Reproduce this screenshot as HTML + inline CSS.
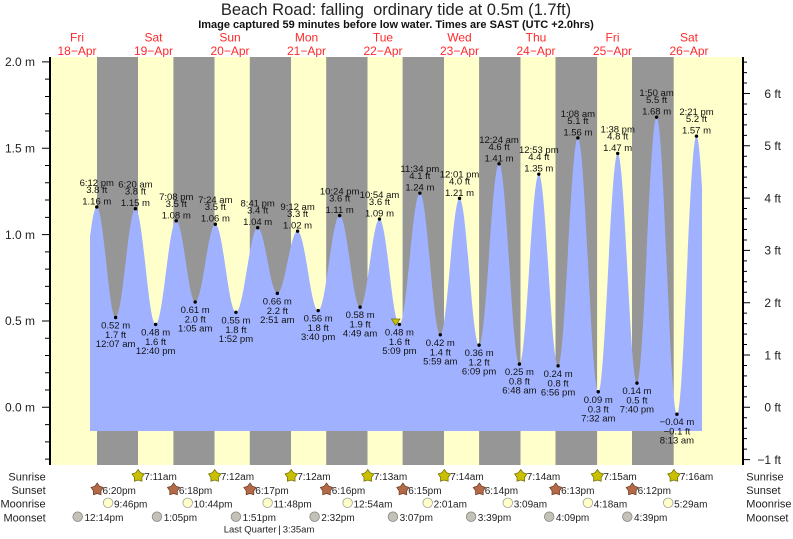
<!DOCTYPE html>
<html><head><meta charset="utf-8"><style>
html,body{margin:0;padding:0;background:#fff;overflow:hidden}
svg{display:block}
.tl{font-size:9.5px;fill:#111;text-anchor:middle}
.ev{font-size:10px;fill:#222}
.rl{font-size:11px;fill:#222}
.ax{font-size:12px;fill:#222}
.day{font-size:12px;fill:#ff2a2a;text-anchor:middle}
</style></head><body>
<svg width="793" height="539" viewBox="0 0 793 539" xmlns="http://www.w3.org/2000/svg" font-family="'Liberation Sans', Arial, sans-serif">
<defs><clipPath id="c"><rect x="90" y="50" width="612" height="381"/></clipPath></defs>
<rect x="0" y="0" width="793" height="539" fill="#fff"/>
<text x="396" y="15" text-anchor="middle" font-size="16.5" fill="#222">Beach Road: falling&#160; ordinary tide at 0.5m (1.7ft)</text>
<text x="396" y="28" text-anchor="middle" font-size="11" font-weight="bold" fill="#111">Image captured 59 minutes before low water. Times are SAST (UTC +2.0hrs)</text>

<text class="day" x="77" y="41.5">Fri</text><text class="day" x="77" y="55">18−Apr</text>
<text class="day" x="153.5" y="41.5">Sat</text><text class="day" x="153.5" y="55">19−Apr</text>
<text class="day" x="230" y="41.5">Sun</text><text class="day" x="230" y="55">20−Apr</text>
<text class="day" x="306.5" y="41.5">Mon</text><text class="day" x="306.5" y="55">21−Apr</text>
<text class="day" x="383" y="41.5">Tue</text><text class="day" x="383" y="55">22−Apr</text>
<text class="day" x="459.5" y="41.5">Wed</text><text class="day" x="459.5" y="55">23−Apr</text>
<text class="day" x="536" y="41.5">Thu</text><text class="day" x="536" y="55">24−Apr</text>
<text class="day" x="612.5" y="41.5">Fri</text><text class="day" x="612.5" y="55">25−Apr</text>
<text class="day" x="689" y="41.5">Sat</text><text class="day" x="689" y="55">26−Apr</text>

<rect x="49" y="57" width="695" height="408" fill="#ffffcc"/>
<g fill="#969696">
<rect x="97" y="57" width="41" height="408"/>
<rect x="173.4" y="57" width="41.1" height="408"/>
<rect x="249.8" y="57" width="41.2" height="408"/>
<rect x="326.2" y="57" width="41.3" height="408"/>
<rect x="402.6" y="57" width="41.4" height="408"/>
<rect x="479.1" y="57" width="41.4" height="408"/>
<rect x="555.5" y="57" width="41.6" height="408"/>
<rect x="632" y="57" width="41.7" height="408"/>
</g>

<path clip-path="url(#c)" fill="#a0b2ff" d="M77,431 L77,320.95
C84.18,320.95 89.58,206.97 96.76,206.97
C103.61,206.97 108.77,317.5 115.62,317.5
C122.82,317.5 128.24,208.69 135.44,208.69
C142.78,208.69 148.29,324.4 155.63,324.4
C163.12,324.4 168.75,220.78 176.24,220.78
C183.13,220.78 188.31,301.95 195.2,301.95
C202.52,301.95 208.02,224.24 215.34,224.24
C222.83,224.24 228.46,312.31 235.95,312.31
C243.85,312.31 249.78,227.69 257.68,227.69
C264.82,227.69 270.19,293.32 277.33,293.32
C284.69,293.32 290.22,231.15 297.58,231.15
C305.07,231.15 310.7,310.59 318.19,310.59
C325.99,310.59 331.85,215.6 339.65,215.6
C347.08,215.6 352.67,307.13 360.1,307.13
C367.15,307.13 372.44,219.06 379.49,219.06
C386.73,219.06 392.18,324.4 399.42,324.4
C406.85,324.4 412.44,193.15 419.87,193.15
C427.3,193.15 432.89,334.77 440.32,334.77
C447.31,334.77 452.56,198.33 459.55,198.33
C466.65,198.33 472,345.13 479.1,345.13
C486.34,345.13 491.79,163.79 499.03,163.79
C506.44,163.79 512.02,364.12 519.43,364.12
C526.48,364.12 531.77,174.15 538.82,174.15
C545.83,174.15 551.09,365.85 558.1,365.85
C565.28,365.85 570.68,137.89 577.86,137.89
C585.27,137.89 590.85,391.76 598.26,391.76
C605.33,391.76 610.64,153.43 617.71,153.43
C624.7,153.43 629.95,383.12 636.94,383.12
C644.08,383.12 649.45,117.16 656.59,117.16
C663.99,117.16 669.54,414.21 676.94,414.21
C684.04,414.21 689.39,136.16 696.49,136.16
C703.73,136.16 709.17,424.57 716.41,424.57
L716.41,431 Z"/>

<!-- axes -->
<rect x="49" y="57" width="2" height="408" fill="#000"/>
<rect x="742" y="57" width="2" height="408" fill="#000"/>
<path stroke="#000" stroke-width="1" fill="none" d="M42,61.9h7M42,148.25h7M42,234.6h7M42,320.95h7M42,407.3h7
M45,459.11h4M45,441.84h4M45,424.57h4M45,390.03h4M45,372.76h4M45,355.49h4M45,338.22h4M45,303.68h4M45,286.41h4M45,269.14h4M45,251.87h4M45,217.33h4M45,200.06h4M45,182.79h4M45,165.52h4M45,130.98h4M45,113.71h4M45,96.44h4M45,79.17h4
M744,459.6h6M744,407.3h6M744,355h6M744,302.7h6M744,250.4h6M744,198.1h6M744,145.8h6M744,93.5h6
M744,449.14h3M744,438.68h3M744,428.22h3M744,417.76h3M744,396.84h3M744,386.38h3M744,375.92h3M744,365.46h3M744,344.54h3M744,334.08h3M744,323.62h3M744,313.16h3M744,292.24h3M744,281.78h3M744,271.32h3M744,260.86h3M744,239.94h3M744,229.48h3M744,219.02h3M744,208.56h3M744,187.64h3M744,177.18h3M744,166.72h3M744,156.26h3M744,135.34h3M744,124.88h3M744,114.42h3M744,103.96h3M744,83.04h3M744,72.58h3M744,62.12h3"/>
<g class="ax" text-anchor="end">
<text x="35" y="66.2">2.0 m</text>
<text x="35" y="152.5">1.5 m</text>
<text x="35" y="238.9">1.0 m</text>
<text x="35" y="325.2">0.5 m</text>
<text x="35" y="411.6">0.0 m</text>
<text x="781" y="97.8">6 ft</text>
<text x="781" y="150.1">5 ft</text>
<text x="781" y="202.4">4 ft</text>
<text x="781" y="254.7">3 ft</text>
<text x="781" y="307">2 ft</text>
<text x="781" y="359.3">1 ft</text>
<text x="781" y="411.6">0 ft</text>
<text x="781" y="463.9">−1 ft</text>
</g>

<!-- current time marker -->
<polygon points="391.5,319 400,319 395.7,325.5" fill="#c8c000" stroke="#6e6a00" stroke-width="0.7"/>

<!-- dots -->
<g fill="#000">
<circle cx="96.76" cy="206.97" r="1.7"/><circle cx="115.62" cy="317.5" r="1.7"/><circle cx="135.44" cy="208.69" r="1.7"/><circle cx="155.63" cy="324.4" r="1.7"/>
<circle cx="176.24" cy="220.78" r="1.7"/><circle cx="195.2" cy="301.95" r="1.7"/><circle cx="215.34" cy="224.24" r="1.7"/><circle cx="235.95" cy="312.31" r="1.7"/>
<circle cx="257.68" cy="227.69" r="1.7"/><circle cx="277.33" cy="293.32" r="1.7"/><circle cx="297.58" cy="231.15" r="1.7"/><circle cx="318.19" cy="310.59" r="1.7"/>
<circle cx="339.65" cy="215.6" r="1.7"/><circle cx="360.1" cy="307.13" r="1.7"/><circle cx="379.49" cy="219.06" r="1.7"/><circle cx="399.42" cy="324.4" r="1.7"/>
<circle cx="419.87" cy="193.15" r="1.7"/><circle cx="440.32" cy="334.77" r="1.7"/><circle cx="459.55" cy="198.33" r="1.7"/><circle cx="479.1" cy="345.13" r="1.7"/>
<circle cx="499.03" cy="163.79" r="1.7"/><circle cx="519.43" cy="364.12" r="1.7"/><circle cx="538.82" cy="174.15" r="1.7"/><circle cx="558.1" cy="365.85" r="1.7"/>
<circle cx="577.86" cy="137.89" r="1.7"/><circle cx="598.26" cy="391.76" r="1.7"/><circle cx="617.71" cy="153.43" r="1.7"/><circle cx="636.94" cy="383.12" r="1.7"/>
<circle cx="656.59" cy="117.16" r="1.7"/><circle cx="676.94" cy="414.21" r="1.7"/><circle cx="696.49" cy="136.16" r="1.7"/>
</g>

<!-- tide labels: highs -->
<g class="tl">
<text x="96.76" y="185.97">6:12 pm</text><text x="96.76" y="192.97">3.8 ft</text><text x="96.76" y="204.47">1.16 m</text>
<text x="135.44" y="187.69">6:20 am</text><text x="135.44" y="194.69">3.8 ft</text><text x="135.44" y="206.19">1.15 m</text>
<text x="176.24" y="199.78">7:08 pm</text><text x="176.24" y="206.78">3.5 ft</text><text x="176.24" y="218.28">1.08 m</text>
<text x="215.34" y="203.24">7:24 am</text><text x="215.34" y="210.24">3.5 ft</text><text x="215.34" y="221.74">1.06 m</text>
<text x="257.68" y="206.69">8:41 pm</text><text x="257.68" y="213.69">3.4 ft</text><text x="257.68" y="225.19">1.04 m</text>
<text x="297.58" y="210.15">9:12 am</text><text x="297.58" y="217.15">3.3 ft</text><text x="297.58" y="228.65">1.02 m</text>
<text x="339.65" y="194.6">10:24 pm</text><text x="339.65" y="201.6">3.6 ft</text><text x="339.65" y="213.1">1.11 m</text>
<text x="379.49" y="198.06">10:54 am</text><text x="379.49" y="205.06">3.6 ft</text><text x="379.49" y="216.56">1.09 m</text>
<text x="419.87" y="172.15">11:34 pm</text><text x="419.87" y="179.15">4.1 ft</text><text x="419.87" y="190.65">1.24 m</text>
<text x="459.55" y="177.33">12:01 pm</text><text x="459.55" y="184.33">4.0 ft</text><text x="459.55" y="195.83">1.21 m</text>
<text x="499.03" y="142.79">12:24 am</text><text x="499.03" y="149.79">4.6 ft</text><text x="499.03" y="161.29">1.41 m</text>
<text x="538.82" y="153.15">12:53 pm</text><text x="538.82" y="160.15">4.4 ft</text><text x="538.82" y="171.65">1.35 m</text>
<text x="577.86" y="116.89">1:08 am</text><text x="577.86" y="123.89">5.1 ft</text><text x="577.86" y="135.39">1.56 m</text>
<text x="617.71" y="132.43">1:38 pm</text><text x="617.71" y="139.43">4.8 ft</text><text x="617.71" y="150.93">1.47 m</text>
<text x="656.59" y="96.16">1:50 am</text><text x="656.59" y="103.16">5.5 ft</text><text x="656.59" y="114.66">1.68 m</text>
<text x="696.49" y="115.16">2:21 pm</text><text x="696.49" y="122.16">5.2 ft</text><text x="696.49" y="133.66">1.57 m</text>
</g>
<!-- tide labels: lows -->
<g class="tl">
<text x="115.62" y="328.5">0.52 m</text><text x="115.62" y="338">1.7 ft</text><text x="115.62" y="347">12:07 am</text>
<text x="155.63" y="335.4">0.48 m</text><text x="155.63" y="344.9">1.6 ft</text><text x="155.63" y="353.9">12:40 pm</text>
<text x="195.2" y="312.95">0.61 m</text><text x="195.2" y="322.45">2.0 ft</text><text x="195.2" y="331.45">1:05 am</text>
<text x="235.95" y="323.31">0.55 m</text><text x="235.95" y="332.81">1.8 ft</text><text x="235.95" y="341.81">1:52 pm</text>
<text x="277.33" y="304.32">0.66 m</text><text x="277.33" y="313.82">2.2 ft</text><text x="277.33" y="322.82">2:51 am</text>
<text x="318.19" y="321.59">0.56 m</text><text x="318.19" y="331.09">1.8 ft</text><text x="318.19" y="340.09">3:40 pm</text>
<text x="360.1" y="318.13">0.58 m</text><text x="360.1" y="327.63">1.9 ft</text><text x="360.1" y="336.63">4:49 am</text>
<text x="399.42" y="335.4">0.48 m</text><text x="399.42" y="344.9">1.6 ft</text><text x="399.42" y="353.9">5:09 pm</text>
<text x="440.32" y="345.77">0.42 m</text><text x="440.32" y="355.27">1.4 ft</text><text x="440.32" y="364.27">5:59 am</text>
<text x="479.1" y="356.13">0.36 m</text><text x="479.1" y="365.63">1.2 ft</text><text x="479.1" y="374.63">6:09 pm</text>
<text x="519.43" y="375.12">0.25 m</text><text x="519.43" y="384.62">0.8 ft</text><text x="519.43" y="393.62">6:48 am</text>
<text x="558.1" y="376.85">0.24 m</text><text x="558.1" y="386.35">0.8 ft</text><text x="558.1" y="395.35">6:56 pm</text>
<text x="598.26" y="402.76">0.09 m</text><text x="598.26" y="412.26">0.3 ft</text><text x="598.26" y="421.26">7:32 am</text>
<text x="636.94" y="394.12">0.14 m</text><text x="636.94" y="403.62">0.5 ft</text><text x="636.94" y="412.62">7:40 pm</text>
<text x="676.94" y="425.21">−0.04 m</text><text x="676.94" y="434.71">−0.1 ft</text><text x="676.94" y="443.71">8:13 am</text>
</g>

<!-- row labels -->
<g class="rl" text-anchor="end">
<text x="45.7" y="480.3">Sunrise</text>
<text x="45.7" y="494">Sunset</text>
<text x="45.7" y="507.7">Moonrise</text>
<text x="45.7" y="521.3">Moonset</text>
</g>
<g class="rl">
<text x="746.3" y="480.3">Sunrise</text>
<text x="746.3" y="494">Sunset</text>
<text x="746.3" y="507.7">Moonrise</text>
<text x="746.3" y="521.3">Moonset</text>
</g>

<!-- sunrise stars -->
<g fill="#c8c000" stroke="#6e6a00" stroke-width="0.7">
<polygon transform="translate(138.15,476)" points="0,-6.5 2.35,-3.24 6.18,-2.01 3.8,1.24 3.82,5.26 0,4 -3.82,5.26 -3.8,1.24 -6.18,-2.01 -2.35,-3.24"/>
<polygon transform="translate(214.7,476)" points="0,-6.5 2.35,-3.24 6.18,-2.01 3.8,1.24 3.82,5.26 0,4 -3.82,5.26 -3.8,1.24 -6.18,-2.01 -2.35,-3.24"/>
<polygon transform="translate(291.2,476)" points="0,-6.5 2.35,-3.24 6.18,-2.01 3.8,1.24 3.82,5.26 0,4 -3.82,5.26 -3.8,1.24 -6.18,-2.01 -2.35,-3.24"/>
<polygon transform="translate(367.75,476)" points="0,-6.5 2.35,-3.24 6.18,-2.01 3.8,1.24 3.82,5.26 0,4 -3.82,5.26 -3.8,1.24 -6.18,-2.01 -2.35,-3.24"/>
<polygon transform="translate(444.3,476)" points="0,-6.5 2.35,-3.24 6.18,-2.01 3.8,1.24 3.82,5.26 0,4 -3.82,5.26 -3.8,1.24 -6.18,-2.01 -2.35,-3.24"/>
<polygon transform="translate(520.8,476)" points="0,-6.5 2.35,-3.24 6.18,-2.01 3.8,1.24 3.82,5.26 0,4 -3.82,5.26 -3.8,1.24 -6.18,-2.01 -2.35,-3.24"/>
<polygon transform="translate(597.4,476)" points="0,-6.5 2.35,-3.24 6.18,-2.01 3.8,1.24 3.82,5.26 0,4 -3.82,5.26 -3.8,1.24 -6.18,-2.01 -2.35,-3.24"/>
<polygon transform="translate(673.9,476)" points="0,-6.5 2.35,-3.24 6.18,-2.01 3.8,1.24 3.82,5.26 0,4 -3.82,5.26 -3.8,1.24 -6.18,-2.01 -2.35,-3.24"/>
</g>
<!-- sunset stars -->
<g fill="#b46a48" stroke="#6b3a22" stroke-width="0.7">
<polygon transform="translate(97.2,489.5)" points="0,-6.5 2.35,-3.24 6.18,-2.01 3.8,1.24 3.82,5.26 0,4 -3.82,5.26 -3.8,1.24 -6.18,-2.01 -2.35,-3.24"/>
<polygon transform="translate(173.6,489.5)" points="0,-6.5 2.35,-3.24 6.18,-2.01 3.8,1.24 3.82,5.26 0,4 -3.82,5.26 -3.8,1.24 -6.18,-2.01 -2.35,-3.24"/>
<polygon transform="translate(250,489.5)" points="0,-6.5 2.35,-3.24 6.18,-2.01 3.8,1.24 3.82,5.26 0,4 -3.82,5.26 -3.8,1.24 -6.18,-2.01 -2.35,-3.24"/>
<polygon transform="translate(326.5,489.5)" points="0,-6.5 2.35,-3.24 6.18,-2.01 3.8,1.24 3.82,5.26 0,4 -3.82,5.26 -3.8,1.24 -6.18,-2.01 -2.35,-3.24"/>
<polygon transform="translate(402.9,489.5)" points="0,-6.5 2.35,-3.24 6.18,-2.01 3.8,1.24 3.82,5.26 0,4 -3.82,5.26 -3.8,1.24 -6.18,-2.01 -2.35,-3.24"/>
<polygon transform="translate(479.4,489.5)" points="0,-6.5 2.35,-3.24 6.18,-2.01 3.8,1.24 3.82,5.26 0,4 -3.82,5.26 -3.8,1.24 -6.18,-2.01 -2.35,-3.24"/>
<polygon transform="translate(555.8,489.5)" points="0,-6.5 2.35,-3.24 6.18,-2.01 3.8,1.24 3.82,5.26 0,4 -3.82,5.26 -3.8,1.24 -6.18,-2.01 -2.35,-3.24"/>
<polygon transform="translate(632.3,489.5)" points="0,-6.5 2.35,-3.24 6.18,-2.01 3.8,1.24 3.82,5.26 0,4 -3.82,5.26 -3.8,1.24 -6.18,-2.01 -2.35,-3.24"/>
</g>
<!-- moonrise -->
<g fill="#ffffc8" stroke="#a0a0a0" stroke-width="0.8">
<circle cx="108.1" cy="502.8" r="4.8"/><circle cx="187.7" cy="502.8" r="4.8"/><circle cx="267.6" cy="502.8" r="4.8"/><circle cx="347.6" cy="502.8" r="4.8"/>
<circle cx="427.7" cy="502.8" r="4.8"/><circle cx="507.8" cy="502.8" r="4.8"/><circle cx="587.9" cy="502.8" r="4.8"/><circle cx="668.2" cy="502.8" r="4.8"/>
</g>
<!-- moonset -->
<g fill="#c4c2b6" stroke="#858585" stroke-width="0.8">
<circle cx="77.7" cy="516.7" r="4.8"/><circle cx="156.95" cy="516.7" r="4.8"/><circle cx="235.9" cy="516.7" r="4.8"/><circle cx="314.6" cy="516.7" r="4.8"/>
<circle cx="392.9" cy="516.7" r="4.8"/><circle cx="471.1" cy="516.7" r="4.8"/><circle cx="549.2" cy="516.7" r="4.8"/><circle cx="627.3" cy="516.7" r="4.8"/>
</g>

<g class="ev">
<text x="144.2" y="480">7:11am</text><text x="220.7" y="480">7:12am</text><text x="297.2" y="480">7:12am</text><text x="373.8" y="480">7:13am</text>
<text x="450.3" y="480">7:14am</text><text x="526.8" y="480">7:14am</text><text x="603.4" y="480">7:15am</text><text x="679.9" y="480">7:16am</text>
<text x="102.5" y="493.8">6:20pm</text><text x="178.9" y="493.8">6:18pm</text><text x="255.3" y="493.8">6:17pm</text><text x="331.8" y="493.8">6:16pm</text>
<text x="408.2" y="493.8">6:15pm</text><text x="484.7" y="493.8">6:14pm</text><text x="561.1" y="493.8">6:13pm</text><text x="637.6" y="493.8">6:12pm</text>
<text x="114" y="507.5">9:46pm</text><text x="193.6" y="507.5">10:44pm</text><text x="273.5" y="507.5">11:48pm</text><text x="353.5" y="507.5">12:54am</text>
<text x="433.6" y="507.5">2:01am</text><text x="513.7" y="507.5">3:09am</text><text x="593.8" y="507.5">4:18am</text><text x="674.1" y="507.5">5:29am</text>
<text x="84.5" y="521.2">12:14pm</text><text x="163.7" y="521.2">1:05pm</text><text x="242.6" y="521.2">1:51pm</text><text x="321.3" y="521.2">2:32pm</text>
<text x="399.6" y="521.2">3:07pm</text><text x="477.8" y="521.2">3:39pm</text><text x="555.9" y="521.2">4:09pm</text><text x="634" y="521.2">4:39pm</text>
</g>

<text x="276.5" y="532.5" font-size="9.5" fill="#222" text-anchor="end">Last Quarter</text>
<text x="279.5" y="533" font-size="10" fill="#222" text-anchor="middle">|</text>
<text x="282.7" y="532.5" font-size="9.5" fill="#222">3:35am</text>
</svg>
</body></html>
